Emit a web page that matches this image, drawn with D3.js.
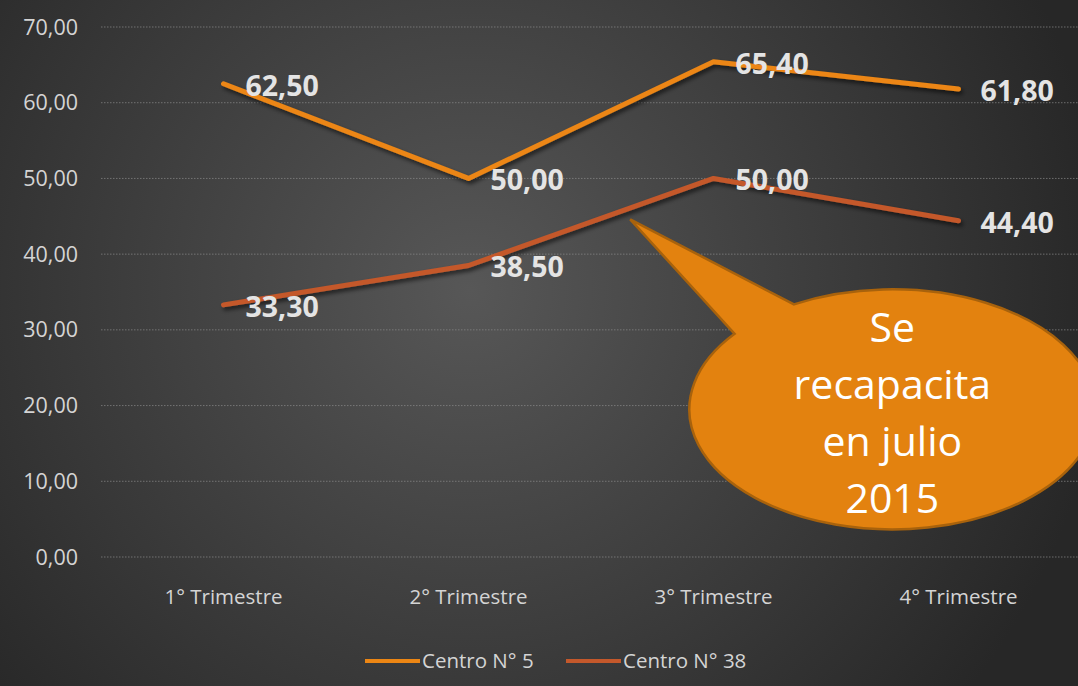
<!DOCTYPE html>
<html>
<head>
<meta charset="utf-8">
<script src="https://cdn.jsdelivr.net/npm/d3@7"></script>
<style>
  html, body { margin: 0; padding: 0; background: #333; }
  svg { display: block; }
</style>
</head>
<body>
<div id="chart"></div>
<script>
const W = 1078, H = 686;

const trimestres = ["1° Trimestre", "2° Trimestre", "3° Trimestre", "4° Trimestre"];
const centro5 = [62.5, 50.0, 65.4, 61.8];
const centro38 = [33.3, 38.5, 50.0, 44.4];
const yTicks = [0, 10, 20, 30, 40, 50, 60, 70];
const seriesNames = ["Centro N° 5", "Centro N° 38"];
const seriesColors = ["#ec8614", "#c4582b"];
const calloutLines = ["Se", "recapacita", "en julio", "2015"];

const font = "'Open Sans', sans-serif";
const fmt = v => d3.format(".2f")(v).replace(".", ",");

const svg = d3.select("#chart").append("svg")
  .attr("width", W)
  .attr("height", H);

const defs = svg.append("defs");
const grad = defs.append("radialGradient")
  .attr("id", "bg")
  .attr("gradientUnits", "userSpaceOnUse")
  .attr("cx", 470).attr("cy", 290).attr("r", 640);
grad.append("stop").attr("offset", "0%").attr("stop-color", "#575757");
grad.append("stop").attr("offset", "100%").attr("stop-color", "#272727");

const shadow = defs.append("filter").attr("id", "shadow")
  .attr("x", "-10%").attr("y", "-10%").attr("width", "120%").attr("height", "140%");
shadow.append("feDropShadow")
  .attr("dx", 2).attr("dy", 3).attr("stdDeviation", 2)
  .attr("flood-color", "#000").attr("flood-opacity", 0.6);

svg.append("rect").attr("width", W).attr("height", H).attr("fill", "url(#bg)");

const x = d3.scaleBand().domain(trimestres).range([101, 1081]);
const y = d3.scaleLinear().domain([0, 70]).range([557, 27]);
const cx = d => x(d) + x.bandwidth() / 2;

// gridlines
svg.append("g").selectAll("line")
  .data(yTicks)
  .enter().append("line")
  .attr("x1", 101).attr("x2", W)
  .attr("y1", d => y(d)).attr("y2", d => y(d))
  .attr("stroke", "#8a8a8a")
  .attr("stroke-width", 1)
  .attr("stroke-dasharray", "1.5,1.5")
  .attr("opacity", 0.7);

// y labels
svg.append("g").selectAll("text")
  .data(yTicks)
  .enter().append("text")
  .attr("x", 78).attr("y", d => y(d))
  .attr("dy", "0.35em")
  .attr("text-anchor", "end")
  .attr("font-family", font)
  .attr("font-size", 21.5)
  .attr("fill", "#d4d4d4")
  .text(d => fmt(d));

// x labels
svg.append("g").selectAll("text")
  .data(trimestres)
  .enter().append("text")
  .attr("x", d => cx(d)).attr("y", 597)
  .attr("dy", "0.35em")
  .attr("text-anchor", "middle")
  .attr("font-family", font)
  .attr("font-size", 20.5)
  .attr("fill", "#d4d4d4")
  .text(d => d);

const line = d3.line()
  .x((d, i) => cx(trimestres[i]))
  .y(d => y(d));

[centro5, centro38].forEach((vals, s) => {
  svg.append("path")
    .datum(vals)
    .attr("fill", "none")
    .attr("stroke", seriesColors[s])
    .attr("stroke-width", 5)
    .attr("stroke-linejoin", "round")
    .attr("stroke-linecap", "round")
    .attr("filter", "url(#shadow)")
    .attr("d", line);

  svg.append("g").selectAll("text")
    .data(vals)
    .enter().append("text")
    .attr("x", (d, i) => cx(trimestres[i]) + 22)
    .attr("y", d => y(d) + 2)
    .attr("dy", "0.35em")
    .attr("font-family", font)
    .attr("font-weight", "bold")
    .attr("font-size", 28.5)
    .attr("fill", "#e4e4e4")
    .text(d => fmt(d));
});

// legend
const legend = svg.append("g");
const legendX = [365, 566];
seriesNames.forEach((name, i) => {
  legend.append("line")
    .attr("x1", legendX[i]).attr("x2", legendX[i] + 55)
    .attr("y1", 661).attr("y2", 661)
    .attr("stroke", seriesColors[i])
    .attr("stroke-width", 4);
  legend.append("text")
    .attr("x", legendX[i] + 57).attr("y", 661)
    .attr("dy", "0.35em")
    .attr("font-family", font)
    .attr("font-size", 20.5)
    .attr("fill", "#d4d4d4")
    .text(name);
});

// callout
const ecx = cx("3° Trimestre") + x.step() * 0.73,
      ecy = y(19.5),
      rx = 203, ry = 120;
const tip = [cx("2° Trimestre") + x.step() * 0.66, y(44.6)];
const pt = a => [ecx + rx * Math.cos(a * Math.PI / 180), ecy + ry * Math.sin(a * Math.PI / 180)];
const b1 = pt(-119), b2 = pt(-141);

svg.append("path")
  .attr("d", `M${b2[0]},${b2[1]} L${tip[0]},${tip[1]} L${b1[0]},${b1[1]} A${rx},${ry} 0 1 1 ${b2[0]},${b2[1]} Z`)
  .attr("fill", "#e3820f")
  .attr("stroke", "#a8620c")
  .attr("stroke-width", 2.5);

svg.append("g").selectAll("text")
  .data(calloutLines)
  .enter().append("text")
  .attr("x", ecx)
  .attr("y", (d, i) => 328 + i * 57)
  .attr("dy", "0.35em")
  .attr("text-anchor", "middle")
  .attr("font-family", font)
  .attr("font-size", 41)
  .attr("fill", "#ffffff")
  .text(d => d);
</script>
</body>
</html>
